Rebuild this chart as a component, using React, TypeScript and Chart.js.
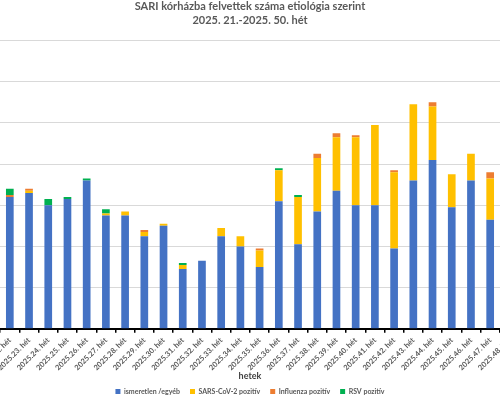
import { useEffect, useRef } from "react";
import { Chart, registerables } from "chart.js";

Chart.register(...registerables);

const weeks = [
  "2025.21. hét", "2025.22. hét", "2025.23. hét", "2025.24. hét", "2025.25. hét",
  "2025.26. hét", "2025.27. hét", "2025.28. hét", "2025.29. hét", "2025.30. hét",
  "2025.31. hét", "2025.32. hét", "2025.33. hét", "2025.34. hét", "2025.35. hét",
  "2025.36. hét", "2025.37. hét", "2025.38. hét", "2025.39. hét", "2025.40. hét",
  "2025.41. hét", "2025.42. hét", "2025.43. hét", "2025.44. hét", "2025.45. hét",
  "2025.46. hét", "2025.47. hét", "2025.48. hét",
];

const unknownOther = [null, 64, 66, 60, 63, 72, 55, 55, 45, 50, 29, 33, 45, 40, 30, 62, 41, 57, 67, 60, 60, 39, 72, 82, 59, 72, 53, null];
const sarsCov2 = [null, 0, 1, 0, 0, 0, 1, 2, 2, 1, 2, 0, 4, 5, 8, 15, 23, 26, 26, 33, 39, 37, 37, 26, 16, 13, 20, null];
const influenza = [null, 1, 1, 0, 0, 0, 0, 0, 1, 0, 0, 0, 0, 0, 1, 0, 0, 2, 2, 1, 0, 1, 0, 2, 0, 0, 3, null];
const rsv = [null, 3, 0, 3, 1, 1, 2, 0, 0, 0, 1, 0, 0, 0, 0, 1, 1, 0, 0, 0, 0, 0, 0, 0, 0, 0, 0, null];

const titleLines = ["SARI kórházba felvettek száma etiológia szerint", "2025. 21.-2025. 50. hét"];
const xTitle = "hetek";
const seriesNames = ["ismeretlen /egyéb", "SARS-CoV-2 pozitív", "Influenza pozitív", "RSV pozitív"];
const seriesColors = ["#4472C4", "#FFC000", "#ED7D31", "#00B050"];

const FONT = "Lato, 'Noto Sans', sans-serif";
const TEXT = "#595959";

export default function App() {
  const ref = useRef<HTMLCanvasElement | null>(null);

  useEffect(() => {
    if (!ref.current) return;
    const series = [unknownOther, sarsCov2, influenza, rsv];
    const chart = new Chart(ref.current, {
      type: "bar",
      data: {
        labels: weeks,
        datasets: series.map((d, i) => ({
          label: seriesNames[i],
          data: d as (number | null)[],
          backgroundColor: seriesColors[i],
          borderWidth: 0,
          categoryPercentage: 1,
          barPercentage: 0.4,
        })),
      },
      options: {
        responsive: false,
        animation: false,
        layout: { padding: { left: 30, right: 30, top: 0, bottom: 0 } },
        plugins: {
          title: {
            display: true,
            text: titleLines,
            color: TEXT,
            font: { family: FONT, size: 11, weight: "bold", lineHeight: 1.25 },
            padding: { top: 0, bottom: 13 },
          },
          legend: {
            position: "bottom",
            labels: {
              boxWidth: 5,
              boxHeight: 5,
              padding: 10,
              color: TEXT,
              font: { family: FONT, size: 7, weight: "bold" },
            },
          },
          tooltip: { enabled: false },
        },
        scales: {
          x: {
            stacked: true,
            grid: {
              display: true,
              drawOnChartArea: false,
              drawTicks: true,
              tickLength: 4,
              color: "#000",
              lineWidth: 1.5,
            },
            border: { display: true, color: "#000", width: 2 },
            ticks: {
              autoSkip: false,
              maxRotation: 45,
              minRotation: 45,
              padding: 3,
              color: TEXT,
              font: { family: FONT, size: 7.5, weight: "bold" },
            },
            title: {
              display: true,
              text: xTitle,
              color: "#404040",
              font: { family: FONT, size: 9, weight: "bold", lineHeight: 1.2 },
              padding: { top: -4.5, bottom: -3.5 },
            },
          },
          y: {
            stacked: true,
            min: 0,
            max: 140,
            ticks: { display: false, stepSize: 20 },
            grid: { color: "#D9D9D9", lineWidth: 1, drawTicks: false },
            border: { display: false },
          },
        },
      },
    });
    return () => chart.destroy();
  }, []);

  return (
    <div
      style={{
        position: "fixed",
        left: 0,
        top: 0,
        width: 500,
        height: 400,
        overflow: "hidden",
        background: "#fff",
      }}
    >
      <canvas
        ref={ref}
        width={598}
        height={405}
        style={{ position: "absolute", left: -49, top: 0, width: 598, height: 405 }}
      />
    </div>
  );
}
